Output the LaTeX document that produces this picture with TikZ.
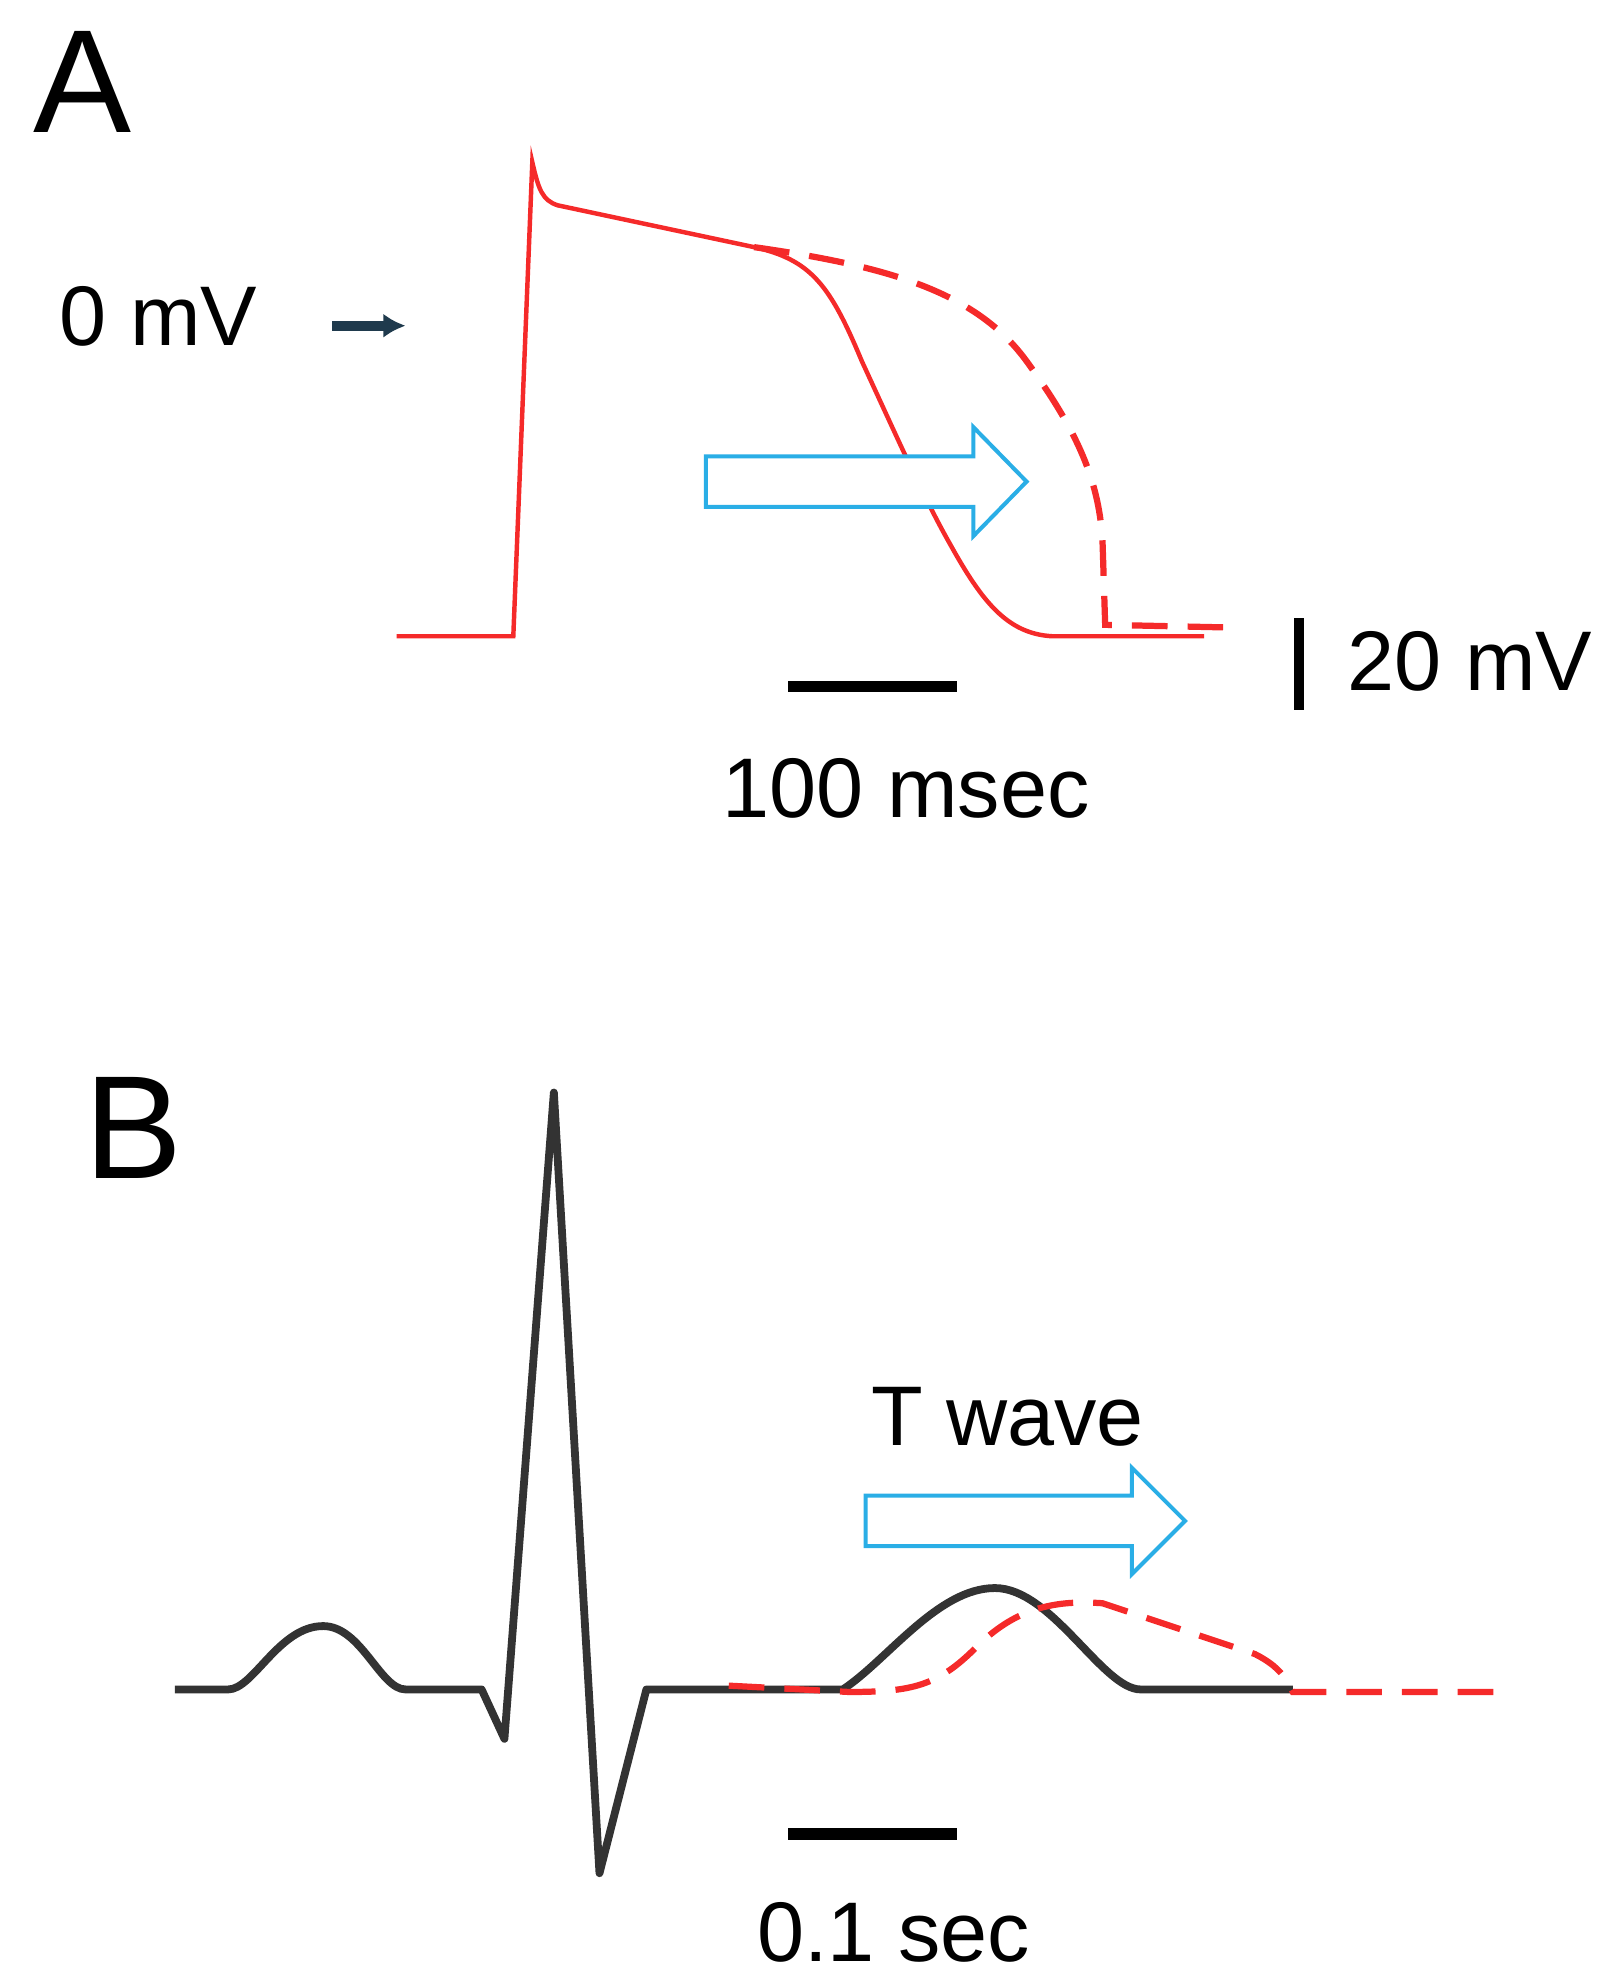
\documentclass[tikz,border=0pt]{standalone}
\usepackage{fontspec}
\setmainfont{Liberation Sans}
\usetikzlibrary{arrows.meta}
\definecolor{apred}{HTML}{F52A2A}
\definecolor{hblue}{HTML}{2AAEE6}
\definecolor{ecg}{HTML}{333333}
\definecolor{navy}{HTML}{1F3A4D}
\begin{document}
\begin{tikzpicture}[x=0.02cm,y=-0.02cm,
  lab/.style={font=\fontsize{38}{42}\selectfont},
  big/.style={font=\fontsize{66}{70}\selectfont},
  bar/.style={line width=5pt},
  dsh/.style={apred,line width=2.8pt,dash pattern=on 16pt off 9pt},
  harrow/.style={draw=hblue,line width=1.8pt,fill=white}]
\useasboundingbox (0,0) rectangle (1280,1567);
% Panel A
\node[big] (A) at (65,65) {A};
\node[lab] (zero) at (125,250) {0 mV};
\coordinate (za) at (262,257); \coordinate (zb) at (320,257);
\draw[navy,line width=4.5pt,-{Latex[length=10pt,width=11pt]}] (za) -- (zb);
\draw[apred,line width=2pt] (313,502) -- (405,502) -- (420,128)
  .. controls (425,150) and (428,158) .. (440,162)
  -- (595,195) .. controls (640,205) and (655,225) .. (680,285)
  .. controls (710,350) and (730,395) .. (750,430)
  .. controls (775,475) and (795,500) .. (830,502) -- (950,502);
\draw[dsh] (595,195)
  .. controls (700,210) and (770,230) .. (810,285)
  .. controls (850,340) and (868,380) .. (870,430)
  -- (872,493) -- (965,495);
\draw[harrow] (557,360) -- (768,360) -- (768,337) -- (810,380) -- (768,423) -- (768,400) -- (557,400) -- cycle;
\coordinate (s1) at (622,542); \coordinate (s2) at (755,542);
\draw[bar] (s1) -- (s2);
\node[lab] (ms) at (715,622) {100 msec};
\coordinate (v1) at (1025,488); \coordinate (v2) at (1025,560);
\draw[line width=4.5pt] (v1) -- (v2);
\node[lab] (mv) at (1160,522) {20 mV};
% Panel B
\node[big] (B) at (105,890) {B};
\draw[ecg,line width=3.5pt,line join=round] (138,1333) -- (180,1333)
  .. controls (200,1333) and (220,1283) .. (255,1283)
  .. controls (285,1283) and (300,1333) .. (320,1333) -- (380,1333)
  -- (398,1372) -- (437,862) -- (473,1478) -- (510,1333) -- (665,1333)
  .. controls (700,1310) and (740,1253) .. (785,1253)
  .. controls (830,1253) and (870,1333) .. (900,1333) -- (1020,1333);
\draw[dsh] (575,1330) -- (670,1335)
  .. controls (720,1335) and (740,1330) .. (770,1300)
  .. controls (800,1270) and (830,1262) .. (870,1265)
  -- (990,1305) .. controls (1010,1315) and (1015,1325) .. (1020,1335) -- (1180,1335);
\node[lab] (tw) at (795,1118) {T wave};
\draw[harrow] (683,1180) -- (893,1180) -- (893,1158) -- (935,1200) -- (893,1242) -- (893,1220) -- (683,1220) -- cycle;
\coordinate (t1) at (622,1447); \coordinate (t2) at (755,1447);
\draw[bar] (t1) -- (t2);
\node[lab] (sec) at (705,1525) {0.1 sec};
\end{tikzpicture}
\end{document}
